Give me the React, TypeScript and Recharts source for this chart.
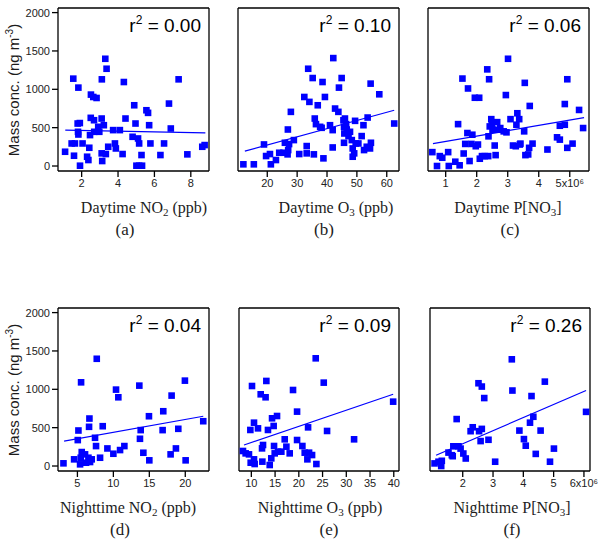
import { ScatterChart, Scatter, XAxis, YAxis } from 'recharts';

const BLUE = '#0000ff';
const INK = '#1c1c1c';
const Y_TICKS = [0, 500, 1000, 1500, 2000];
const Y_DOMAIN: [number, number] = [-65, 2060];

// (a) daytime NO2 (ppb) vs mass conc.
const dayNO2X = [1.09, 1.54, 1.82, 1.63, 1.45, 1.58, 1.78, 1.9, 1.8, 1.82, 1.91, 2.05, 2.3, 2.37, 2.42, 2.46, 2.5, 2.51, 2.64, 2.82, 2.68, 2.69, 2.91, 2.97, 3.1, 3.11, 3.1, 3.13, 3.22, 3.3, 3.37, 3.33, 3.46, 3.73, 3.83, 3.88, 4.1, 4.25, 4.32, 4.41, 4.8, 4.89, 4.96, 5.01, 5.1, 5.16, 5.16, 5.32, 5.29, 5.56, 5.65, 5.71, 5.78, 6.33, 6.53, 6.8, 6.9, 7.33, 7.81, 8.63, 8.76];
const dayNO2Y = [186, 1139, 1022, 294, 294, 134, 554, 560, 446, 411, 4, 294, 121, 78, 238, 403, 628, 931, 900, 887, 597, 446, 511, 446, 619, 1130, 165, 65, 532, 1398, 1268, 156, 251, 468, 294, 229, 468, 156, 1095, 619, 381, 792, 554, 4, 359, 294, 4, 4, 143, 727, 693, 532, 294, 143, 294, 814, 489, 1130, 152, 251, 273];
const dayNO2Fit = [[1.1, 468], [8.8, 433]];

// (b) daytime O3 (ppb)
const dayO3X = [12.0, 15.5, 18.9, 19.6, 20.9, 21.2, 22.9, 24.0, 25.4, 25.9, 26.8, 27.0, 26.9, 27.3, 27.9, 28.9, 30.7, 32.4, 33.2, 33.2, 33.7, 34.1, 35.2, 35.6, 35.9, 36.3, 36.9, 37.7, 38.2, 38.5, 38.8, 39.3, 41.0, 41.9, 41.9, 42.1, 42.7, 43.8, 44.0, 44.9, 45.5, 45.7, 45.8, 46.0, 46.4, 46.6, 45.7, 47.2, 47.7, 48.3, 48.6, 48.6, 49.1, 49.4, 49.6, 50.5, 51.6, 52.2, 52.4, 53.3, 53.6, 54.4, 54.7, 54.6, 57.5, 62.5];
const dayO3Y = [22, 22, 281, 130, 156, 22, 78, 173, 173, 303, 152, 208, 476, 286, 706, 338, 156, 900, 260, 165, 1268, 836, 1147, 152, 619, 546, 792, 511, 498, 1095, 100, 900, 532, 468, 242, 1407, 749, 706, 1022, 1147, 597, 511, 424, 619, 546, 476, 303, 390, 446, 338, 229, 121, 165, 589, 294, 294, 390, 532, 208, 251, 632, 229, 303, 1074, 935, 554];
const dayO3Fit = [[12.5, 195], [62.5, 727]];

// (c) daytime P[NO3] (x10^6)
const dayPX = [0.57, 0.72, 0.81, 0.89, 1.08, 1.10, 1.31, 1.40, 1.45, 1.54, 1.58, 1.63, 1.70, 1.72, 1.77, 1.83, 1.86, 1.94, 1.97, 2.04, 2.08, 2.10, 2.17, 2.26, 2.34, 2.37, 2.38, 2.40, 2.42, 2.47, 2.49, 2.51, 2.58, 2.61, 2.66, 2.69, 2.76, 2.87, 2.94, 2.96, 3.01, 3.09, 3.17, 3.26, 3.28, 3.31, 3.37, 3.39, 3.41, 3.53, 3.55, 3.57, 3.66, 3.69, 3.71, 3.80, 4.28, 4.59, 4.68, 4.68, 4.84, 4.84, 4.92, 4.92, 5.09, 5.30, 5.43];
const dayPY = [181, 0, 129, 108, 181, 0, 56, 546, 9, 1140, 163, 288, 430, 1011, 65, 288, 408, 890, 258, 280, 890, 95, 129, 129, 1260, 129, 387, 1131, 516, 611, 538, 473, 267, 142, 572, 473, 495, 452, 925, 439, 1398, 611, 267, 258, 538, 688, 611, 280, 292, 452, 1084, 142, 151, 237, 783, 292, 215, 374, 344, 525, 538, 808, 237, 1131, 292, 731, 495];
const dayPFit = [[0.59, 292], [5.46, 632]];

// (d) nighttime NO2 (ppb)
const nightNO2X = [3.06, 4.54, 5.05, 5.14, 5.37, 5.46, 5.51, 5.6, 6.06, 6.2, 6.53, 6.62, 6.67, 6.76, 6.99, 7.45, 7.59, 7.69, 8.15, 8.52, 9.17, 10.0, 10.37, 10.69, 10.93, 11.53, 13.61, 13.70, 13.80, 14.17, 15.0, 14.95, 16.94, 16.85, 18.10, 17.96, 18.7, 19.03, 20.05, 19.95, 22.5];
const nightNO2Y = [35, 87, 338, 463, 22, 108, 1091, 182, 152, 43, 108, 511, 619, 52, 87, 368, 260, 1398, 108, 519, 229, 160, 996, 896, 208, 260, 1048, 355, 468, 173, 74, 649, 714, 468, 918, 152, 229, 485, 74, 1113, 584];
const nightNO2Fit = [[3.15, 325], [22.5, 649]];

// (e) nighttime O3 (ppb)
const nightO3X = [8.24, 8.8, 9.5, 9.79, 9.86, 10.14, 10.56, 10.56, 10.7, 11.4, 11.97, 12.25, 12.32, 12.46, 13.0, 13.16, 13.5, 13.87, 14.2, 14.36, 14.7, 14.78, 14.92, 15.41, 15.62, 16.32, 17.03, 17.38, 18.08, 18.78, 19.63, 19.63, 20.75, 21.24, 21.8, 21.95, 22.16, 22.79, 23.56, 23.7, 25.25, 25.95, 31.64, 39.87];
const nightO3Y = [196, 165, 152, 470, 43, 1043, 565, 87, 26, 491, 935, 230, 57, 274, 896, 1109, 470, 13, 100, 622, 522, 261, 165, 652, 187, 187, 348, 252, 165, 991, 709, 339, 261, 174, 87, 504, 174, 143, 1404, 26, 1087, 457, 348, 839];
const nightO3Fit = [[8.45, 274], [39.87, 935]];

// (f) nighttime P[NO3] (x10^6)
const nightPX = [1.07, 1.20, 1.29, 1.31, 1.53, 1.64, 1.69, 1.67, 1.8, 1.86, 1.93, 2.02, 2.1, 2.26, 2.33, 2.52, 2.54, 2.59, 2.63, 2.63, 2.71, 2.85, 3.07, 3.62, 3.64, 3.87, 4.02, 4.08, 4.22, 4.27, 4.33, 4.41, 4.57, 4.71, 4.88, 5.01, 6.07];
const nightPY = [34, 56, 0, 68, 175, 141, 257, 128, 612, 257, 227, 163, 98, 454, 505, 1079, 454, 325, 1036, 484, 886, 342, 56, 1391, 984, 462, 351, 265, 565, 912, 642, 158, 462, 1100, 56, 227, 706];
const nightPFit = [[1.12, 141], [6.07, 984]];

const R2 = ['0.00', '0.10', '0.06', '0.04', '0.09', '0.26'];

const FRAME_H = 163;
const AXIS = { stroke: '#000', strokeWidth: 1.3 };

// last tick of the P[NO3] axes carries the x10^6 multiplier
const sciAt = (last: number) => (v: number) => (v === last ? `${v}x10\u2076` : String(v));

const panels = [
  { xs: dayNO2X, ys: dayNO2Y, fit: dayNO2Fit, left: 58, top: 8, w: 151, xDomain: [0.7, 9.0], xTicks: [2, 4, 6, 8], yLabels: true, title: ['Daytime NO', '2', ' (ppb)'], titleX: 144, tag: '(a)', tagX: 125, fmt: undefined },
  { xs: dayO3X, ys: dayO3Y, fit: dayO3Fit, left: 238, top: 8, w: 161, xDomain: [10.2, 64.1], xTicks: [20, 30, 40, 50, 60], yLabels: false, title: ['Daytime O', '3', ' (ppb)'], titleX: 336, tag: '(b)', tagX: 324, fmt: undefined },
  { xs: dayPX, ys: dayPY, fit: dayPFit, left: 428, top: 8, w: 161, xDomain: [0.43, 5.62], xTicks: [1, 2, 3, 4, 5], yLabels: false, title: ['Daytime P[NO', '3', ']'], titleX: 508, tag: '(c)', tagX: 510, fmt: sciAt(5) },
  { xs: nightNO2X, ys: nightNO2Y, fit: nightNO2Fit, left: 58, top: 308, w: 151, xDomain: [2.3, 23.3], xTicks: [5, 10, 15, 20], yLabels: true, title: ['Nighttime NO', '2', ' (ppb)'], titleX: 128, tag: '(d)', tagX: 120, fmt: undefined },
  { xs: nightO3X, ys: nightO3Y, fit: nightO3Fit, left: 239, top: 308, w: 160, xDomain: [7.4, 41.1], xTicks: [10, 15, 20, 25, 30, 35, 40], yLabels: false, title: ['Nighttime O', '3', ' (ppb)'], titleX: 320, tag: '(e)', tagX: 329, fmt: undefined },
  { xs: nightPX, ys: nightPY, fit: nightPFit, left: 430, top: 308, w: 160, xDomain: [0.92, 6.2], xTicks: [2, 3, 4, 5, 6], yLabels: false, title: ['Nighttime P[NO', '3', ']'], titleX: 512, tag: '(f)', tagX: 512, fmt: sciAt(6) },
];

const Square = (props: any) => {
  const { cx, cy } = props;
  if (cx == null || cy == null) return <g />;
  return <rect x={cx - 3.3} y={cy - 3.3} width={6.6} height={6.6} fill={BLUE} />;
};

const NoShape = () => <g />;

function Panel({ p, r2 }: { p: any; r2: string }) {
  const pts = p.xs.map((x: number, i: number) => ({ x, y: p.ys[i] }));
  const fit = p.fit.map((d: number[]) => ({ x: d[0], y: d[1] }));
  const width = p.w + 58 + 12;
  const height = FRAME_H + 10 + 24;
  const tickStyle = { fontSize: 11, fill: '#222' };
  return (
    <>
      <div style={{ position: 'absolute', left: p.left - 58, top: p.top - 10 }}>
        <ScatterChart width={width} height={height} margin={{ top: 0, right: 0, bottom: 0, left: 0 }}>
          <XAxis xAxisId="b" type="number" dataKey="x" orientation="bottom" domain={p.xDomain} ticks={p.xTicks}
            allowDataOverflow interval={0} height={24} tickSize={6} tickFormatter={p.fmt}
            tick={tickStyle} axisLine={AXIS} tickLine={AXIS} />
          <XAxis xAxisId="t" type="number" orientation="top" domain={p.xDomain} ticks={p.xTicks}
            allowDataOverflow interval={0} height={10} tickSize={6} tick={false} axisLine={AXIS} tickLine={AXIS} />
          <YAxis yAxisId="l" type="number" dataKey="y" orientation="left" domain={Y_DOMAIN} ticks={Y_TICKS}
            allowDataOverflow interval={0} width={58} tickSize={6} tick={p.yLabels ? tickStyle : false}
            axisLine={AXIS} tickLine={AXIS} />
          <YAxis yAxisId="r" type="number" orientation="right" domain={Y_DOMAIN} ticks={Y_TICKS}
            allowDataOverflow interval={0} width={12} tickSize={6} tick={false} axisLine={AXIS} tickLine={AXIS} />
          <Scatter xAxisId="b" yAxisId="l" data={pts} shape={Square} isAnimationActive={false} />
          <Scatter xAxisId="b" yAxisId="l" data={fit} shape={NoShape} line={{ stroke: BLUE, strokeWidth: 1.2 }}
            isAnimationActive={false} />
        </ScatterChart>
      </div>
      <div style={{ position: 'absolute', left: p.left + p.w - 8, top: p.top + 8, transform: 'translateX(-100%)',
        fontSize: 19, lineHeight: '19px', whiteSpace: 'nowrap', color: '#000' }}>
        r<span style={{ fontSize: 12, position: 'relative', top: -8 }}>2</span> = {r2}
      </div>
      <div style={{ position: 'absolute', left: p.titleX, top: p.top + 200, transform: 'translate(-50%, -50%)',
        fontFamily: '"Liberation Serif", "Times New Roman", serif', fontSize: 16, lineHeight: '18px',
        whiteSpace: 'nowrap', color: INK }}>
        {p.title[0]}<span style={{ fontSize: 11, position: 'relative', top: 3 }}>{p.title[1]}</span>{p.title[2]}
      </div>
      <div style={{ position: 'absolute', left: p.tagX, top: p.top + 222, transform: 'translate(-50%, -50%)',
        fontFamily: '"Liberation Serif", "Times New Roman", serif', fontSize: 17, lineHeight: '20px',
        whiteSpace: 'nowrap', color: INK }}>
        {p.tag}
      </div>
    </>
  );
}

function YTitle({ cy }: { cy: number }) {
  return (
    <div style={{ position: 'absolute', left: 15, top: cy, transform: 'translate(-50%, -50%) rotate(-90deg)',
      fontSize: 15, lineHeight: '16px', whiteSpace: 'nowrap', color: INK }}>
      Mass conc. (ng m<span style={{ fontSize: 10, position: 'relative', top: -6 }}>-3</span>)
    </div>
  );
}

export default function App() {
  return (
    <div style={{ position: 'absolute', left: 0, top: 0, width: 600, height: 549, background: '#fff',
      fontFamily: '"Liberation Sans", Arial, sans-serif' }}>
      {panels.map((p, i) => <Panel key={i} p={p} r2={R2[i]} />)}
      <YTitle cy={90} />
      <YTitle cy={390} />
    </div>
  );
}
